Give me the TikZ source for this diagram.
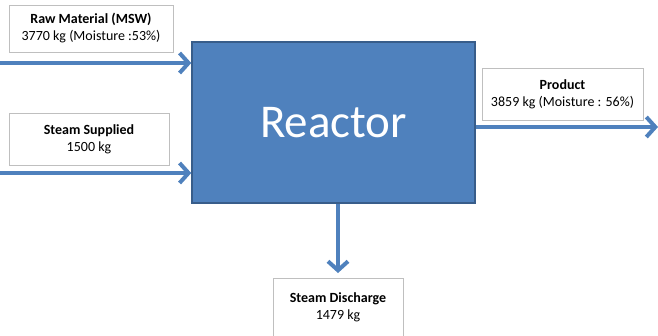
\documentclass[tikz,border=0pt]{standalone}
\usepackage{fontspec}
\setmainfont{Carlito}
\usetikzlibrary{arrows.meta,positioning}
\definecolor{reactorblue}{HTML}{4F81BD}
\definecolor{reactoredge}{HTML}{385D8A}
\definecolor{boxgray}{HTML}{BFBFBF}
\begin{document}
\begin{tikzpicture}[x=1pt,y=-1pt,
    flow/.style={draw=reactorblue,line width=4pt,-{Straight Barb[length=9pt,width=20pt]}},
    infobox/.style={draw=boxgray,line width=0.8pt,fill=white,align=center,
      font=\fontsize{14}{17}\selectfont,inner sep=0pt}]
    \useasboundingbox (0,0) rectangle (658,335);
    % reactor block
    \node[draw=reactoredge,line width=1.5pt,fill=reactorblue,text=white,
      minimum width=283pt,minimum height=161pt,inner sep=0pt,
      font=\fontsize{47}{50}\selectfont] (reactor) at (333.5,122.5) {Reactor};
    % stream labels
    \node[infobox,minimum width=164pt,minimum height=47pt] (raw) at (91,28.5)
      {\textbf{Raw Material (MSW)}\\3770 kg (Moisture :53\%)};
    \node[infobox,minimum width=160pt,minimum height=52pt] (steamin) at (89,139)
      {\textbf{Steam Supplied}\\1500 kg};
    \node[infobox,minimum width=161pt,minimum height=52pt] (product) at (562.5,94)
      {\textbf{Product}\\3859 kg (Moisture : 56\%)};
    \node[infobox,minimum width=130pt,minimum height=58pt,anchor=north] (steamout) at (338,278)
      {\textbf{Steam Discharge}\\1479 kg};
    % streams
    \coordinate (rawend) at (0,63);
    \coordinate (steamend) at (0,173);
    \coordinate (productend) at (658,127);
    \coordinate (outend) at (338,273);
    \draw[flow] (rawend) -- (rawend -| reactor.west);
    \draw[flow] (steamend) -- (steamend -| reactor.west);
    \draw[flow] (productend -| reactor.east) -- (productend);
    \draw[flow] (outend |- reactor.south) -- (outend);
  \end{tikzpicture}
\end{document}
